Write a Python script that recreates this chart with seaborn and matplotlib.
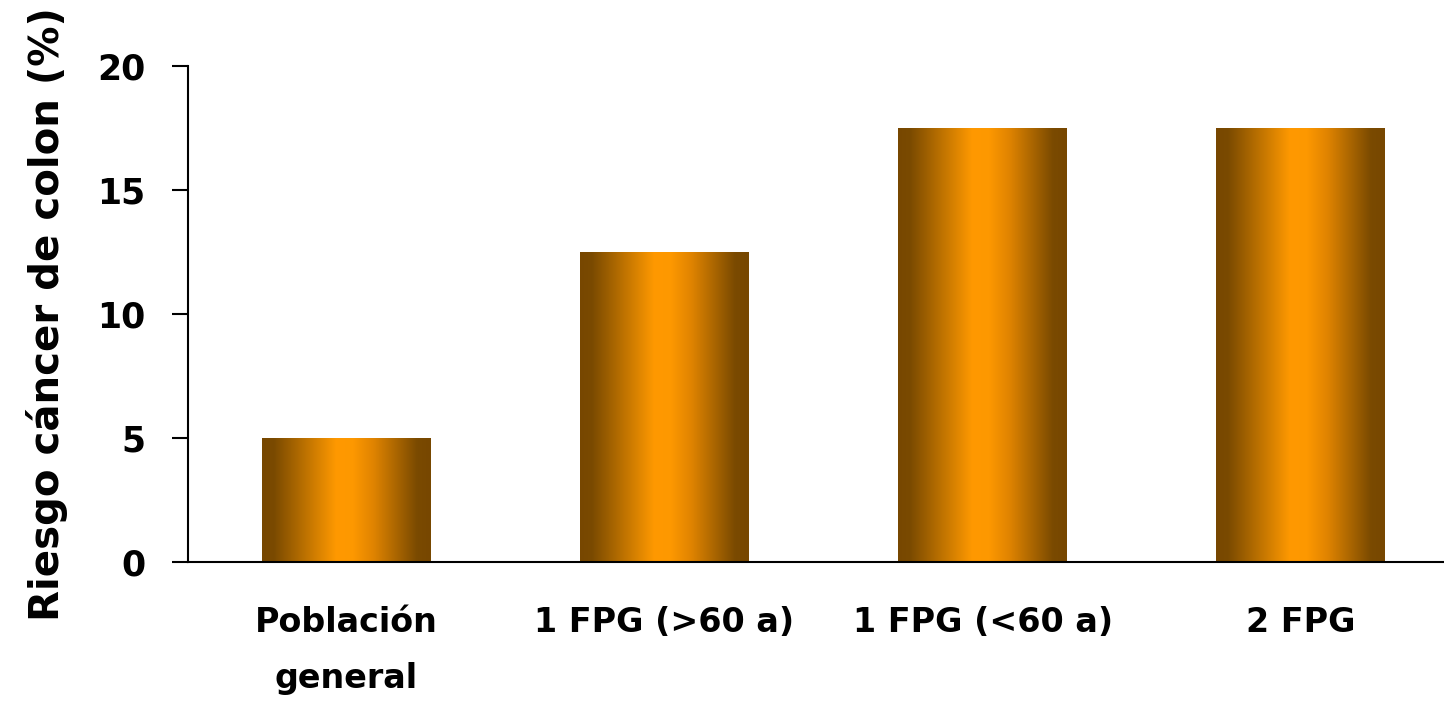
import numpy as np
import pandas as pd
import matplotlib
matplotlib.use("Agg")
import matplotlib.pyplot as plt
from matplotlib.colors import LinearSegmentedColormap
import seaborn as sns

categories = ["Población\ngeneral", "1 FPG (>60 a)", "1 FPG (<60 a)", "2 FPG"]
values = [5, 12.5, 17.5, 17.5]
yticks = [0, 5, 10, 15, 20]
ylabel = "Riesgo cáncer de colon (%)"

sns.set_theme(style="white")
plt.rcParams['font.family'] = ['DejaVu Sans']
plt.rcParams['text.color'] = 'black'
plt.rcParams['axes.labelcolor'] = 'black'
plt.rcParams['xtick.color'] = 'black'
plt.rcParams['ytick.color'] = 'black'

fig = plt.figure(figsize=(14.44, 7.03), dpi=100)
ax = fig.add_axes([188/1444, 141/703, 1 - 188/1444, (562-66)/703])

df = pd.DataFrame({"cat": categories, "val": values})
sns.barplot(data=df, x="cat", y="val", ax=ax, width=0.53, color="#ff9900", saturation=1)

cmap = LinearSegmentedColormap.from_list(
    "grad", [(0.0, "#774700"), (0.07, "#7a4a00"), (0.44, "#ff9900"), (0.54, "#fd9800"),
             (0.66, "#e08400"), (0.92, "#7a4a00"), (1.0, "#774700")])
grad = np.linspace(0, 1, 256).reshape(1, -1)
for p in ax.patches:
    x0, y0 = p.get_x(), p.get_y()
    w, h = p.get_width(), p.get_height()
    im = ax.imshow(grad, cmap=cmap, aspect="auto", extent=(x0, x0 + w, y0, y0 + h),
                   interpolation="bicubic", zorder=p.get_zorder() + 0.1)
    im.set_clip_path(p)

ax.set_xlim(-0.497, 3.45)
ax.set_ylim(0, 20)
ax.set_yticks(yticks)
ax.set_yticklabels([str(t) for t in yticks], fontsize=25, fontweight="bold",
                   family=['DejaVu Sans'], color="black")
ax.set_xticks(range(len(categories)))
ax.set_xticklabels(categories, fontsize=24, fontweight="bold",
                   family=['DejaVu Sans'], linespacing=1.85, color="black")
ax.set_xlabel("")
ax.set_ylabel(ylabel, fontsize=29, fontweight="bold", labelpad=21,
              family=['DejaVu Sans'], color="black")

for s in ["top", "right"]:
    ax.spines[s].set_visible(False)
for s in ["left", "bottom"]:
    ax.spines[s].set_color("black")
    ax.spines[s].set_linewidth(1.5)
ax.tick_params(axis="y", length=11.5, width=1.5, color="black", pad=19, left=True)
ax.tick_params(axis="x", length=0, pad=32)

fig.savefig("out.png", dpi=100)
